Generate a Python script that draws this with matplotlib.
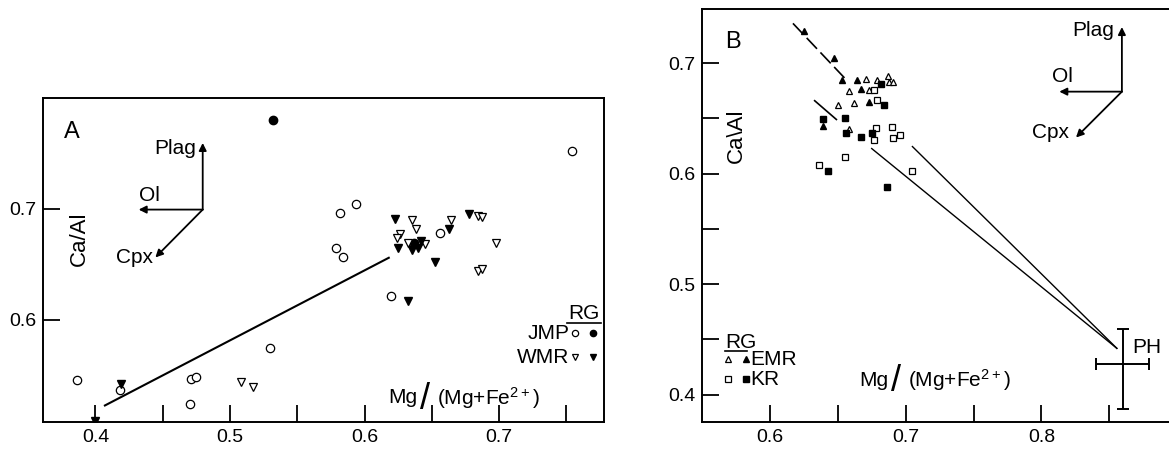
import matplotlib
matplotlib.use("Agg")
from matplotlib import pyplot as plt

plt.rcParams['font.family'] = ['Liberation Sans', 'DejaVu Sans']
plt.rcParams['mathtext.default'] = 'regular'

# ---- panel A data ----
a_jmp_x = [0.386, 0.418, 0.471, 0.475, 0.470, 0.530, 0.579, 0.584, 0.582, 0.594, 0.620, 0.656, 0.754]
a_jmp_y = [0.546, 0.537, 0.547, 0.549, 0.524, 0.575, 0.665, 0.657, 0.696, 0.704, 0.622, 0.678, 0.752]
a_jmp_rg_x = [0.532, 0.637]
a_jmp_rg_y = [0.780, 0.669]
a_wmr_x = [0.508, 0.517, 0.635, 0.638, 0.626, 0.624, 0.632, 0.645, 0.664, 0.684, 0.687, 0.698, 0.684, 0.687]
a_wmr_y = [0.544, 0.540, 0.690, 0.682, 0.677, 0.674, 0.669, 0.668, 0.690, 0.694, 0.693, 0.669, 0.644, 0.646]
a_wmr_rg_x = [0.400, 0.419, 0.623, 0.625, 0.635, 0.640, 0.642, 0.652, 0.663, 0.678, 0.632]
a_wmr_rg_y = [0.509, 0.542, 0.691, 0.665, 0.663, 0.665, 0.671, 0.652, 0.682, 0.695, 0.617]
a_fit_x = [0.407, 0.618]
a_fit_y = [0.523, 0.656]

# ---- panel B data ----
b_emr_x = [0.671, 0.679, 0.687, 0.688, 0.691, 0.658, 0.673, 0.650, 0.662, 0.658]
b_emr_y = [0.686, 0.685, 0.688, 0.683, 0.683, 0.675, 0.676, 0.662, 0.664, 0.640]
b_emr_rg_x = [0.625, 0.647, 0.653, 0.664, 0.667, 0.673, 0.639]
b_emr_rg_y = [0.729, 0.705, 0.685, 0.685, 0.677, 0.665, 0.643]
b_kr_x = [0.677, 0.679, 0.678, 0.677, 0.690, 0.691, 0.696, 0.655, 0.636, 0.705]
b_kr_y = [0.676, 0.667, 0.641, 0.630, 0.642, 0.632, 0.635, 0.615, 0.608, 0.602]
b_kr_rg_x = [0.682, 0.684, 0.639, 0.655, 0.656, 0.667, 0.675, 0.643, 0.686]
b_kr_rg_y = [0.681, 0.662, 0.649, 0.650, 0.637, 0.633, 0.637, 0.602, 0.588]
b_trend_x = [0.617, 0.657]
b_trend_y = [0.736, 0.684]
b_short_x = [0.633, 0.649]
b_short_y = [0.666, 0.649]
b_mix1_x = [0.705, 0.8556]
b_mix1_y = [0.6245, 0.4418]
b_mix2_x = [0.675, 0.8556]
b_mix2_y = [0.6227, 0.4418]
ph_x, ph_y = 0.860, 0.4275
ph_xerr = 0.0196
ph_yerr = [[0.0405], [0.0315]]

FS = 15


def style_axes(ax):
    ax.tick_params(direction='in', length=12, width=1.3, labelsize=14, pad=5)
    for s in ax.spines.values():
        s.set_linewidth(1.4)


def vectors(ax, origin, plag, ol, cpx, plag_txt, ol_txt, cpx_txt):
    ap = dict(arrowstyle='-|>', lw=1.3, color='k', mutation_scale=11, shrinkA=0, shrinkB=0)
    for tip in (plag, ol, cpx):
        ax.annotate('', xy=tip, xytext=origin, arrowprops=ap)
    ax.text(*plag_txt, 'Plag', fontsize=FS, ha='right', va='center')
    ax.text(*ol_txt, 'Ol', fontsize=FS, ha='center', va='center')
    ax.text(*cpx_txt, 'Cpx', fontsize=FS, ha='right', va='center')


def mg_label(ax, x, y):
    ax.text(x, y, 'Mg', fontsize=FS, ha='left', va='center')
    ax.annotate('/', xy=(x, y), xytext=(23, -1), textcoords='offset points',
                fontsize=26, ha='left', va='center')
    ax.annotate('(Mg+Fe$^{2+}$)', xy=(x, y), xytext=(35, 0), textcoords='offset points',
                fontsize=FS, ha='left', va='center')


fig = plt.figure(figsize=(11.69, 4.51), dpi=100)

# ---------------- panel A ----------------
ax = fig.add_axes([0.0368, 0.064, 0.4799, 0.719])
ax.plot(a_fit_x, a_fit_y, color='k', lw=1.5)
ax.plot(a_jmp_x, a_jmp_y, 'o', mfc='white', mec='k', ms=6, mew=0.9)
ax.plot(a_jmp_rg_x, a_jmp_rg_y, 'o', mfc='k', mec='k', ms=6)
ax.plot(a_wmr_x, a_wmr_y, 'v', mfc='white', mec='k', ms=5.5, mew=0.9)
ax.plot(a_wmr_rg_x, a_wmr_rg_y, 'v', mfc='k', mec='k', ms=5.5)
ax.set_xlim(0.361, 0.778)
ax.set_ylim(0.508, 0.800)
ax.set_xticks([0.4, 0.45, 0.5, 0.55, 0.6, 0.65, 0.7, 0.75])
ax.set_xticklabels(['0.4', '', '0.5', '', '0.6', '', '0.7', ''])
ax.set_yticks([0.6, 0.7])
ax.set_yticklabels(['0.6', '0.7'])
style_axes(ax)
ax.text(0.3827, 0.769, 'A', fontsize=17, ha='center', va='center')
ax.text(0.388, 0.673, 'Ca/Al', fontsize=16, rotation=90, ha='center', va='center')
vectors(ax, (0.4797, 0.6994), (0.4797, 0.7594), (0.4321, 0.6994), (0.4445, 0.6563),
        (0.4745, 0.7548), (0.4398, 0.7125), (0.4430, 0.6560))
mg_label(ax, 0.6176, 0.530)
# legend
ax.text(0.763, 0.606, 'RG', fontsize=FS, ha='center', va='center')
ax.plot([0.7505, 0.7755], [0.597, 0.597], color='k', lw=1.2)
ax.text(0.7525, 0.588, 'JMP', fontsize=FS, ha='right', va='center')
ax.text(0.7525, 0.5665, 'WMR', fontsize=FS, ha='right', va='center')
ax.plot([0.7565], [0.588], 'o', mfc='white', mec='k', ms=4.5, mew=0.9)
ax.plot([0.770], [0.588], 'o', mfc='k', mec='k', ms=4.5)
ax.plot([0.7565], [0.5665], 'v', mfc='white', mec='k', ms=4.5, mew=0.9)
ax.plot([0.770], [0.5665], 'v', mfc='k', mec='k', ms=4.5)

# ---------------- panel B ----------------
bx = fig.add_axes([0.6005, 0.064, 0.3995, 0.916])
bx.plot(b_trend_x, b_trend_y, color='k', lw=1.2, dashes=(9, 3))
bx.plot(b_short_x, b_short_y, color='k', lw=1.2)
bx.plot(b_mix1_x, b_mix1_y, color='k', lw=1.0)
bx.plot(b_mix2_x, b_mix2_y, color='k', lw=1.0)
bx.errorbar([ph_x], [ph_y], xerr=ph_xerr, yerr=ph_yerr, fmt='none', ecolor='k',
            elinewidth=1.4, capsize=4, capthick=1.4)
bx.plot(b_emr_x, b_emr_y, '^', mfc='white', mec='k', ms=5, mew=0.9)
bx.plot(b_emr_rg_x, b_emr_rg_y, '^', mfc='k', mec='k', ms=5)
bx.plot(b_kr_x, b_kr_y, 's', mfc='white', mec='k', ms=4.5, mew=0.9)
bx.plot(b_kr_rg_x, b_kr_rg_y, 's', mfc='k', mec='k', ms=4.5)
bx.set_xlim(0.55, 0.894)
bx.set_ylim(0.375, 0.749)
bx.set_xticks([0.6, 0.65, 0.7, 0.75, 0.8, 0.85])
bx.set_xticklabels(['0.6', '', '0.7', '', '0.8', ''])
bx.set_yticks([0.4, 0.45, 0.5, 0.55, 0.6, 0.65, 0.7])
bx.set_yticklabels(['0.4', '', '0.5', '', '0.6', '', '0.7'])
style_axes(bx)
bx.spines['right'].set_visible(False)
bx.text(0.5728, 0.719, 'B', fontsize=17, ha='center', va='center')
bx.text(0.5755, 0.634, 'Ca\\Al', fontsize=16, rotation=90, ha='center', va='center')
vectors(bx, (0.8593, 0.6742), (0.8593, 0.7327), (0.8132, 0.6742), (0.8255, 0.6327),
        (0.8537, 0.7296), (0.8154, 0.6880), (0.8206, 0.6375))
bx.text(0.867, 0.443, 'PH', fontsize=FS, ha='left', va='center')
mg_label(bx, 0.666, 0.413)
# legend
bx.text(0.567, 0.447, 'RG', fontsize=FS, ha='left', va='center')
bx.plot([0.567, 0.5835], [0.4395, 0.4395], color='k', lw=1.2)
bx.plot([0.5693], [0.4318], '^', mfc='white', mec='k', ms=4, mew=0.9)
bx.plot([0.5821], [0.4318], '^', mfc='k', mec='k', ms=4)
bx.text(0.5853, 0.4318, 'EMR', fontsize=FS, ha='left', va='center')
bx.plot([0.5693], [0.4139], 's', mfc='white', mec='k', ms=3.8, mew=0.9)
bx.plot([0.5821], [0.4139], 's', mfc='k', mec='k', ms=3.8)
bx.text(0.5853, 0.4139, 'KR', fontsize=FS, ha='left', va='center')

fig.savefig('out.png', dpi=100)
